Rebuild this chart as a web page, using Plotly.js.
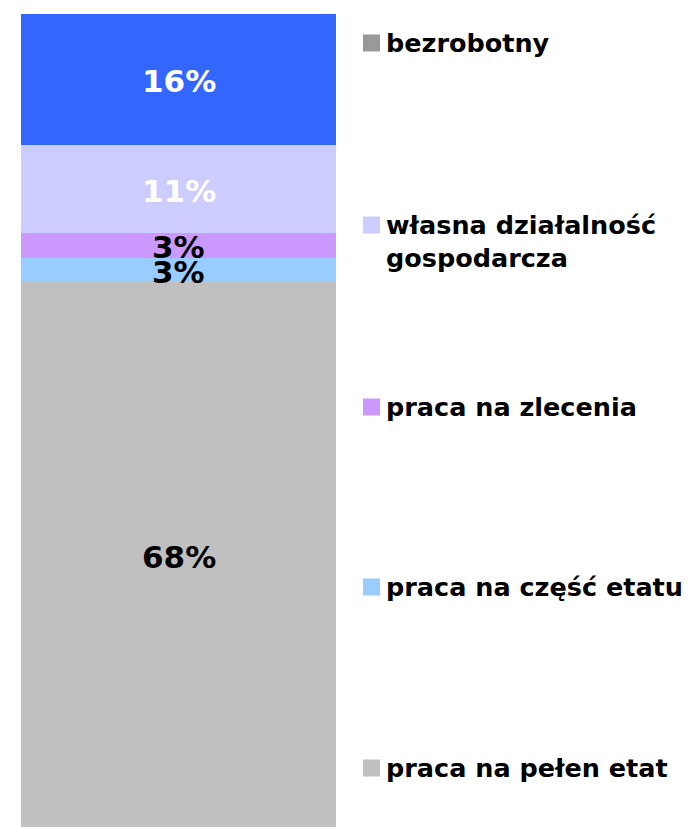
<!DOCTYPE html>
<html>
<head>
<meta charset="utf-8">
<script src="https://cdn.plot.ly/plotly-3.0.1.min.js"></script>
<style>html,body{margin:0;padding:0;background:#fff;}#chart{width:693px;height:827px;}</style>
</head>
<body>
<div id="chart"></div>
<script>
// Stack order: bottom to top
var categories = ["praca na pełen etat", "praca na część etatu", "praca na zlecenia", "własna działalność<br>gospodarcza", "bezrobotny"];
var values = [67.0, 3.0, 3.1, 10.8, 16.1];
var labels = ["68%", "3%", "3%", "11%", "16%"];
var barColors = ["#C0C0C0", "#99CCFF", "#CC99FF", "#CCCCFF", "#3366FF"];
var legendColors = ["#C0C0C0", "#99CCFF", "#CC99FF", "#CCCCFF", "#999999"];
var labelColors = ["#000000", "#000000", "#000000", "#FFFFFF", "#FFFFFF"];

var FONT = "DejaVu Sans, Verdana, sans-serif";
var traces = [];
var annotations = [];
var shapes = [];
var cum = 0;
for (var i = 0; i < categories.length; i++) {
  traces.push({
    type: "bar", x: [0], y: [values[i]], name: categories[i],
    marker: {color: barColors[i], line: {width: 0}},
    width: 1, hoverinfo: "none", showlegend: false
  });
  annotations.push({
    xref: "x", yref: "y", x: 0, y: cum + values[i] / 2, yshift: -2,
    text: labels[i], showarrow: false, xanchor: "center", yanchor: "middle",
    font: {family: FONT, size: 31, weight: "bold", color: labelColors[i]}
  });
  cum += values[i];
}

// Custom legend (top to bottom = reverse stack order)
var legendY = [43, 225, 407, 587, 768]; // pixel centres from top
var plotTop = 14, plotBottom = 827, plotH = plotBottom - plotTop;
function toPaperY(px) { return (plotBottom - px) / plotH; }
function toPaperX(px) { return (px - 21) / 315; }
for (var j = 0; j < categories.length; j++) {
  var k = categories.length - 1 - j;
  var multi = categories[k].indexOf("<br>") >= 0;
  annotations.push({
    xref: "paper", yref: "paper", x: toPaperX(384),
    y: multi ? toPaperY(legendY[j] - 17) : toPaperY(legendY[j]),
    xanchor: "left", yanchor: multi ? "top" : "middle",
    text: multi ? "<span style='line-height:1'>" + categories[k] + "</span>" : categories[k],
    showarrow: false, align: "left",
    font: {family: FONT, size: 25.5, weight: "bold", color: "#000"}
  });
  shapes.push({
    type: "rect", xref: "paper", yref: "paper",
    x0: toPaperX(363), x1: toPaperX(380),
    y0: toPaperY(legendY[j] + 8.5), y1: toPaperY(legendY[j] - 8.5),
    fillcolor: legendColors[k], line: {width: 0}
  });
}

var layout = {
  width: 693, height: 827,
  margin: {l: 21, r: 357, t: 14, b: 0, pad: 0},
  barmode: "stack", bargap: 0,
  paper_bgcolor: "#fff", plot_bgcolor: "#fff",
  xaxis: {range: [-0.5, 0.5], visible: false, fixedrange: true},
  yaxis: {range: [0, cum], visible: false, fixedrange: true},
  showlegend: false,
  annotations: annotations,
  shapes: shapes
};
Plotly.newPlot("chart", traces, layout, {displayModeBar: false, staticPlot: true});
</script>
</body>
</html>
